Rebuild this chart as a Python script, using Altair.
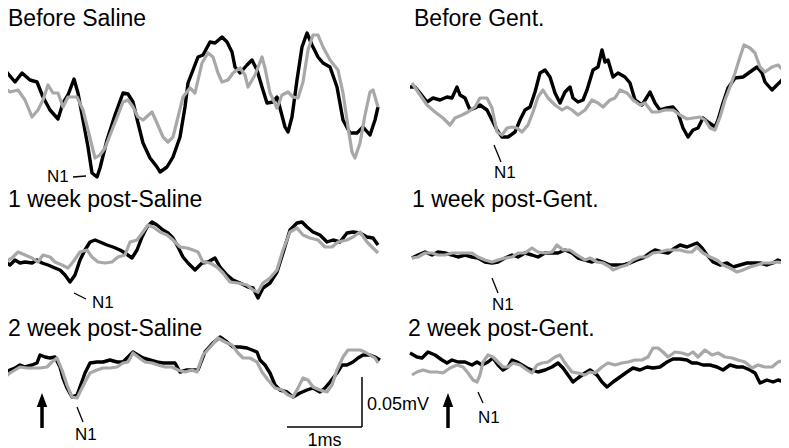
import altair as alt
import pandas as pd

# Time: sample index relative to the stimulus (arrow), sampled at 75 kHz.
# Amplitude: microvolts relative to each panel's baseline.
SAMPLE_RATE_KHZ = 75

bs_black_t = [-37,-27,-20,-12,-5,1,8,16,21,26,32,36,41,46,50,55,58,65,73,81,86,91,96,101,108,115,118,125,131,138,143,146,151,156,161,168,173,180,185,190,193,198,205,210,215,220,225,231,235,238,243,246,250,255,260,265,270,276,281,288,295,301,308,315,321,328,333,336]
bs_black_uv = [20,8,17,10,8,-7,-20,-29,-13,-5,11,-3,-30,-57,-83,-87,-78,-50,-25,-3,-4,-12,-33,-53,-68,-77,-82,-77,-67,-47,-17,7,20,33,35,48,47,53,48,38,23,17,25,30,20,3,-13,-12,-7,-18,-37,-42,-27,10,43,57,45,33,27,23,3,-30,-43,-43,-37,-45,-30,-17]

bs_gray_t = [-39,-32,-24,-17,-10,-4,1,6,11,16,21,26,35,41,46,53,58,63,70,76,81,86,91,96,101,110,115,121,126,131,136,141,148,153,160,166,171,176,180,186,191,198,203,206,213,220,223,228,235,240,246,251,256,261,266,271,276,281,288,296,301,306,310,313,318,323,328,331,336]
bs_gray_uv = [3,-2,0,-10,-27,-20,-10,5,-3,-3,-17,-7,-7,-20,-40,-68,-65,-58,-40,-25,-12,-10,-17,-27,-30,-22,-33,-47,-52,-47,-27,-7,2,-3,27,37,33,17,8,10,17,22,15,3,15,33,22,-3,-18,-5,-2,-7,-8,8,40,55,55,43,30,20,-3,-37,-62,-68,-53,-25,-2,0,-17]

bg_black_t = [-38,-33,-28,-21,-15,-8,-1,4,9,12,17,22,27,32,39,44,49,54,60,67,72,77,82,87,92,97,102,107,112,117,122,125,130,135,139,142,145,150,154,157,160,165,170,177,182,187,194,199,202,207,212,219,225,230,235,240,245,250,255,260,267,270,275,280,287,295,302,309,314,317,324,329,334,337]
bg_black_uv = [3,3,-3,-12,-8,-10,-7,-8,3,-5,-8,-20,-18,-15,-20,-30,-40,-47,-47,-42,-30,-20,-17,-2,17,20,13,-3,-13,-2,3,-8,-12,-10,0,10,20,23,40,28,30,13,17,13,7,-10,-15,-7,-2,-13,-20,-18,-17,-23,-38,-47,-40,-38,-28,-32,-37,-30,-13,2,12,13,18,23,17,8,0,5,10,13]

bg_gray_t = [-36,-30,-21,-13,-5,2,7,14,20,27,32,39,44,49,54,59,64,69,74,80,85,90,95,100,107,114,119,124,130,137,144,150,155,162,167,172,179,185,192,197,204,210,217,225,232,239,245,252,257,262,267,272,277,282,287,292,296,302,307,312,317,324,330,337]
bg_gray_uv = [7,-2,-15,-22,-28,-35,-28,-25,-22,-17,-8,-8,-18,-42,-45,-38,-37,-38,-42,-35,-22,-7,0,-8,-15,-20,-17,-20,-25,-20,-10,-13,-17,-10,-8,0,-3,-10,-15,-13,-22,-22,-20,-20,-25,-29,-28,-27,-30,-38,-40,-27,-10,3,17,33,45,42,37,23,18,23,25,18]

ws1_black_t = [-37,-32,-27,-22,-17,-10,-5,0,6,13,18,23,28,33,38,43,48,53,58,65,71,78,83,90,95,100,105,110,115,121,126,131,136,141,146,151,153,160,166,173,178,185,191,198,206,211,216,221,228,235,241,248,255,260,265,271,278,285,291,298,305,311,318,325,331,336]
ws1_black_uv = [-2,-5,0,-3,-2,-3,0,-3,-5,-8,-10,-15,-22,-15,0,10,18,20,18,15,13,10,7,2,10,23,33,38,35,30,27,22,13,3,-3,-8,-10,-3,-2,2,-7,-15,-20,-23,-27,-28,-38,-28,-23,-12,7,30,37,38,33,28,25,18,20,18,27,28,27,23,22,15]

ws1_gray_t = [-37,-30,-24,-17,-10,-4,1,8,13,20,26,31,38,45,50,56,63,70,76,83,88,95,101,106,111,118,125,131,138,145,151,156,161,168,175,181,188,196,205,211,216,221,228,235,241,248,255,261,268,276,283,290,296,305,311,318,325,331,336]
ws1_gray_uv = [-2,2,8,5,2,-2,5,3,-2,-5,-8,-2,8,10,3,-2,-3,-2,3,5,18,20,28,35,33,28,25,20,13,12,10,8,-2,-3,-7,-13,-22,-23,-25,-30,-32,-23,-18,-10,10,28,32,25,22,20,13,13,18,20,23,28,18,12,7]

wg1_black_t = [-36,-30,-23,-16,-10,-3,4,10,17,24,30,37,44,50,57,64,70,77,84,90,97,104,110,117,124,130,137,144,149,155,162,169,175,182,189,195,202,207,214,220,227,232,239,244,249,254,259,265,272,279,285,292,299,305,312,319,325,330,337]
wg1_black_uv = [2,5,8,5,8,7,5,3,5,3,2,-2,-3,-2,2,5,3,7,5,3,7,7,7,10,7,2,0,-2,0,-2,-5,-5,-5,-3,0,2,7,10,8,7,12,15,13,15,17,12,5,-2,-5,-3,-7,-5,-3,-3,-3,-5,-3,0,-3]

wg1_gray_t = [-36,-30,-23,-16,-10,-3,4,10,17,24,30,37,44,50,57,64,70,77,84,90,97,104,109,115,122,129,137,142,149,155,162,165,172,179,185,192,199,205,212,219,225,232,239,244,249,255,262,269,275,282,289,295,302,309,315,322,329,335]
wg1_gray_uv = [2,3,7,7,5,5,7,7,7,7,3,0,-2,0,2,3,7,7,12,8,7,8,15,10,10,5,0,2,-2,-3,-7,-10,-7,-5,0,3,3,7,8,10,10,10,8,8,13,7,3,0,-5,-8,-12,-10,-7,-5,-3,-3,-2,-3]

ws2_black_t = [-37,-32,-27,-22,-17,-10,-5,-2,3,8,13,18,21,25,30,35,38,43,48,55,61,68,75,81,86,91,96,101,108,115,121,128,133,138,145,151,156,163,171,178,185,191,198,205,210,215,218,223,228,233,238,245,251,258,265,271,278,283,288,295,300,305,311,316,321,328,333,338]
ws2_black_uv = [-3,0,2,5,3,5,7,15,13,12,13,3,-8,-18,-27,-25,-17,-3,7,8,8,10,8,8,13,18,15,12,10,8,7,7,7,-2,0,0,0,18,27,33,28,23,23,22,20,18,10,5,-3,-15,-20,-22,-27,-23,-20,-18,-22,-18,-12,-3,5,5,8,12,15,15,13,10]

ws2_gray_t = [-37,-32,-27,-22,-15,-9,-2,5,10,15,20,25,30,35,38,43,48,55,61,68,75,81,86,91,96,103,110,116,123,130,136,143,150,155,161,170,176,183,190,196,201,208,215,220,226,233,240,246,251,256,261,266,271,278,285,290,295,301,306,311,318,323,328,333,336]
ws2_gray_uv = [-7,-3,0,3,2,2,2,3,8,12,0,-15,-27,-28,-22,-12,-3,0,2,2,3,7,8,17,13,8,7,5,3,3,0,-2,0,-2,15,25,32,28,25,17,12,12,8,-2,-10,-18,-20,-25,-27,-18,-8,-10,-17,-20,-22,-15,0,13,20,20,20,18,15,12,7]

wg2_black_t = [-38,-31,-26,-20,-13,-6,-1,4,10,17,24,29,34,40,45,50,55,60,64,69,74,79,84,90,97,104,110,115,120,125,130,137,142,149,154,159,165,172,179,185,192,199,205,212,219,225,232,239,244,249,255,262,269,275,282,289,295,302,307,312,319,325,330,337]
wg2_black_uv = [17,13,12,18,15,10,7,10,8,8,5,8,5,8,12,5,0,3,10,8,5,2,0,-2,0,3,7,2,-5,-12,-8,-3,0,-5,-12,-17,-12,-7,-2,2,0,3,2,3,8,11,11,10,7,7,5,5,3,0,5,3,3,0,-3,-13,-10,-12,-10,-12]

wg2_gray_t = [-36,-31,-25,-18,-11,-5,2,9,15,20,25,29,32,35,40,45,50,55,60,65,72,79,84,89,94,100,107,112,117,124,130,137,142,147,154,160,167,174,180,187,194,200,205,210,215,220,227,234,240,245,250,257,264,270,277,284,290,297,304,310,317,324,330,337]
wg2_gray_uv = [-5,-2,0,-2,-2,-3,2,5,3,-3,-10,-12,-5,8,15,13,8,3,3,7,5,0,-3,5,7,8,13,15,7,-2,-3,-5,-2,-3,3,7,5,7,8,10,10,13,22,22,18,13,18,17,15,18,13,20,15,17,13,12,10,8,2,5,3,3,8,10]

PANEL_TITLES = ["Before Saline", "Before Gent.", "1 week post-Saline",
                "1 week post-Gent.", "2 week post-Saline", "2 week post-Gent."]

TRACES = [
    (0, 0, "black", bs_black_t, bs_black_uv), (0, 0, "gray", bs_gray_t, bs_gray_uv),
    (1, 0, "black", bg_black_t, bg_black_uv), (1, 0, "gray", bg_gray_t, bg_gray_uv),
    (0, 1, "black", ws1_black_t, ws1_black_uv), (0, 1, "gray", ws1_gray_t, ws1_gray_uv),
    (1, 1, "black", wg1_black_t, wg1_black_uv), (1, 1, "gray", wg1_gray_t, wg1_gray_uv),
    (0, 2, "black", ws2_black_t, ws2_black_uv), (0, 2, "gray", ws2_gray_t, ws2_gray_uv),
    (1, 2, "black", wg2_black_t, wg2_black_uv), (1, 2, "gray", wg2_gray_t, wg2_gray_uv),
]

# ---- layout (canvas units: 1 ms = 75, 1 uV = 1) ----
PX_PER_MS = 75.0
PX_PER_UV = 1.0
COL_STIM_X = [42, 448]
ROW_BASE_Y = [90, 260, 370]

rows = []
for col, row, color, ts, vs in TRACES:
    key = f"{col}-{row}-{color}"
    for i, (t, v) in enumerate(zip(ts, vs)):
        rows.append({"key": key, "color": color, "i": i,
                     "x": COL_STIM_X[col] + t / SAMPLE_RATE_KHZ * PX_PER_MS,
                     "y": ROW_BASE_Y[row] - v * PX_PER_UV})
df = pd.DataFrame(rows)

xs = alt.Scale(domain=[8, 781], nice=False, zero=False)
ys = alt.Scale(domain=[8, 448], nice=False, zero=False, reverse=True)
X = lambda f: alt.X(f, type="quantitative", scale=xs, axis=None)
Y = lambda f: alt.Y(f, type="quantitative", scale=ys, axis=None)

black = alt.Chart(df[df.color == "black"]).mark_line(
    color="#000000", strokeWidth=3.4, strokeJoin="round", clip=True
).encode(x=X("x"), y=Y("y"), detail="key:N", order="i:Q")
gray = alt.Chart(df[df.color == "gray"]).mark_line(
    color="#a8a8a8", strokeWidth=3.2, strokeJoin="round", clip=True
).encode(x=X("x"), y=Y("y"), detail="key:N", order="i:Q")

FONT = "Liberation Sans"
title_df = pd.DataFrame({
    "text": PANEL_TITLES,
    "x": [8, 414, 8, 412, 8, 408],
    "y": [25.5, 25.5, 207, 207, 336, 336],
})
titles = alt.Chart(title_df).mark_text(
    align="left", baseline="alphabetic", font=FONT, fontSize=23, color="black"
).encode(x=X("x"), y=Y("y"), text="text:N")

n1_df = pd.DataFrame({
    "text": ["N1"] * 6,
    "x": [47, 494, 92, 492, 75, 478],
    "y": [182, 178, 308, 310, 440, 423],
})
n1_text = alt.Chart(n1_df).mark_text(
    align="left", baseline="alphabetic", font=FONT, fontSize=17, color="black"
).encode(x=X("x"), y=Y("y"), text="text:N")

n1_lines = pd.DataFrame({
    "x": [73, 494, 74, 492, 77, 478],
    "y": [177, 145, 293, 278, 407, 392],
    "x2": [86, 501, 86, 498, 83, 483],
    "y2": [176, 162, 299, 293, 422, 403],
})
n1_rules = alt.Chart(n1_lines).mark_rule(color="black", strokeWidth=1.3).encode(
    x=X("x"), y=Y("y"), x2="x2:Q", y2="y2:Q")

# scale bar: 1 ms horizontal, 0.05 mV vertical
CORNER = (362, 427)
bar_df = pd.DataFrame({
    "x": [CORNER[0] - 1.0 * PX_PER_MS, CORNER[0]],
    "y": [CORNER[1], CORNER[1] - 50 * PX_PER_UV],
    "x2": [CORNER[0], CORNER[0]],
    "y2": [CORNER[1], CORNER[1]],
})
bar = alt.Chart(bar_df).mark_rule(color="black", strokeWidth=1.5).encode(
    x=X("x"), y=Y("y"), x2="x2:Q", y2="y2:Q")
bar_text_df = pd.DataFrame({
    "text": ["0.05mV", "1ms"],
    "x": [CORNER[0] + 5, CORNER[0] - 0.5 * PX_PER_MS],
    "y": [410, 446],
})
bar_text_l = alt.Chart(bar_text_df.iloc[[0]]).mark_text(
    align="left", baseline="alphabetic", font=FONT, fontSize=18, color="black"
).encode(x=X("x"), y=Y("y"), text="text:N")
bar_text_c = alt.Chart(bar_text_df.iloc[[1]]).mark_text(
    align="center", baseline="alphabetic", font=FONT, fontSize=18, color="black"
).encode(x=X("x"), y=Y("y"), text="text:N")

# stimulus arrows
arrow_df = pd.DataFrame({"x": COL_STIM_X, "y": [428, 428], "y2": [405, 405], "yh": [400, 400]})
shaft = alt.Chart(arrow_df).mark_rule(color="black", strokeWidth=3.5).encode(
    x=X("x"), y=Y("y"), y2="y2:Q")
head = alt.Chart(arrow_df).mark_point(
    shape="M-0.75,1L0,-1L0.75,1Z", filled=True, size=196, color="black", opacity=1
).encode(x=X("x"), y=Y("yh"))

chart = alt.layer(
    black, gray, titles, n1_text, n1_rules, bar, bar_text_l, bar_text_c, shaft, head
).properties(
    width=773, height=440, padding=0,
    autosize=alt.AutoSizeParams(type="none"),
).configure_view(stroke=None)

chart.save("out.html", embed_options={"renderer": "svg", "actions": False})
